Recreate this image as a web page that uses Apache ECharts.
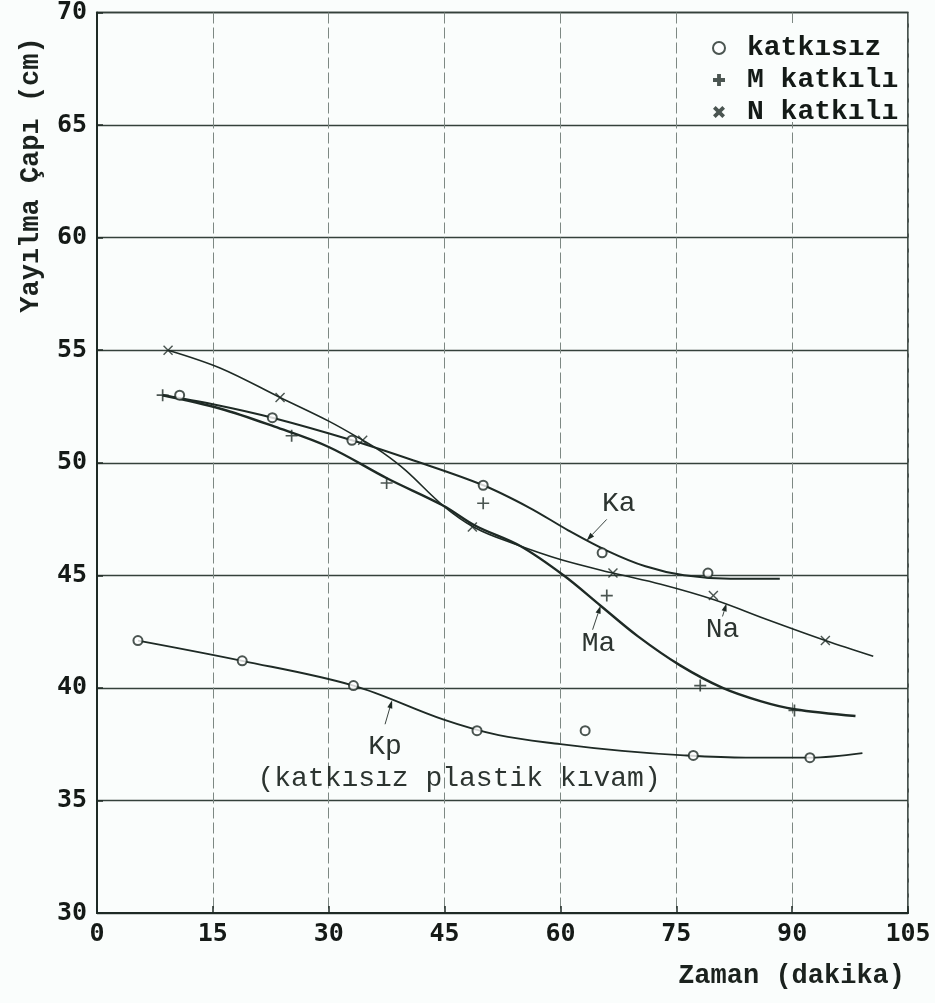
<!DOCTYPE html>
<html>
<head>
<meta charset="utf-8">
<script src="https://cdn.jsdelivr.net/npm/echarts@6/dist/echarts.min.js"></script>
<style>
  html, body { margin: 0; padding: 0; background: #fafdfc; }
  #chart { width: 935px; height: 1003px; }
</style>
</head>
<body>
<div id="chart"></div>
<script>
// Axis ticks
const timeTicks = [0, 15, 30, 45, 60, 75, 90, 105];
const diameterTicks = [30, 35, 40, 45, 50, 55, 60, 65, 70];

// Measured points: time (dakika) and spread diameter (cm)
const kaTime = [10.7, 22.7, 33.0, 50.0, 65.4, 79.1];
const kaDia  = [53.0, 52.0, 51.0, 49.0, 46.0, 45.1];
const maTime = [8.5, 25.2, 37.5, 50.0, 66.0, 78.1, 90.3];
const maDia  = [53.0, 51.2, 49.1, 48.2, 44.1, 40.1, 39.0];
const naTime = [9.2, 23.7, 34.4, 48.6, 66.8, 79.8, 94.3];
const naDia  = [55.0, 52.9, 51.0, 47.15, 45.1, 44.1, 42.1];
const kpTime = [5.3, 18.8, 33.2, 49.2, 63.2, 77.2, 92.3];
const kpDia  = [42.1, 41.2, 40.1, 38.1, 38.1, 37.0, 36.9];

// Hand-drawn trend curves through the measurements
const kaCurveTime = [8.5, 15, 22.7, 33, 41, 50, 56, 61, 66, 71, 76, 82, 88.4];
const kaCurveDia  = [53.0, 52.6, 52.0, 51.0, 50.1, 49.0, 48.0, 47.0, 46.1, 45.4, 45.0, 44.85, 44.85];
const maCurveTime = [8.5, 16, 23, 30, 37.6, 44.8, 49, 54.8, 60.4, 65.2, 70, 75.5, 81, 86, 90.3, 98.2];
const maCurveDia  = [53.0, 52.4, 51.6, 50.7, 49.3, 48.1, 47.2, 46.3, 45.0, 43.65, 42.3, 41.0, 40.0, 39.4, 39.05, 38.75];
const naCurveTime = [9.2, 16, 23.7, 30, 34.4, 37, 40, 44.8, 49, 54, 60, 66.8, 73, 80, 87, 94.3, 100.5];
const naCurveDia  = [55.0, 54.2, 52.9, 51.85, 51.0, 50.45, 49.65, 48.1, 47.1, 46.4, 45.7, 45.1, 44.6, 43.9, 43.0, 42.1, 41.4];
const kpCurveTime = [5.3, 18.8, 33.2, 44.8, 52, 60, 68, 76, 84, 92.3, 99.1];
const kpCurveDia  = [42.1, 41.2, 40.1, 38.6, 37.9, 37.5, 37.2, 37.0, 36.9, 36.9, 37.1];

// Legend names
const seriesNames = ['katkısız', 'M katkılı', 'N katkılı'];

// Curve annotations: arrow tip on the curve (data units) and text
const curveNotes = [
  { text: 'Ka', tip: [63.4, 46.55], tail: [20, -21], label: [32, -37] },
  { text: 'Ma', tip: [65.2, 43.65], tail: [-8, 24],  label: [-2, 38] },
  { text: 'Na', tip: [81.5, 43.75], tail: [-4, 13],  label: [-4, 26] },
  { text: 'Kp', tip: [38.2, 39.45], tail: [-7, 24],  label: [-7, 46] }
];
const kpSubtitle = '(katkısız plastik kıvam)';

const INK = '#1e2a25';
const BG = '#fafdfc';
const pairs = (xs, ys) => xs.map((x, i) => [x, ys[i]]);

const plusPath = 'path://M4.3,0H5.7V4.3H10V5.7H5.7V10H4.3V5.7H0V4.3H4.3Z';
const crossPath = 'path://M0,1L1,0L5,4L9,0L10,1L6,5L10,9L9,10L5,6L1,10L0,9L4,5Z';
const plusBold = 'path://M3.4,0H6.6V3.4H10V6.6H6.6V10H3.4V6.6H0V3.4H3.4Z';
const crossBold = 'path://M0,2.2L2.2,0L5,2.8L7.8,0L10,2.2L7.2,5L10,7.8L7.8,10L5,7.2L2.2,10L0,7.8L2.8,5Z';

function curve(name, xs, ys, width) {
  return {
    name: name, type: 'line', data: pairs(xs, ys), smooth: 0.35,
    showSymbol: false, symbol: 'none', silent: true, z: 3,
    lineStyle: { color: INK, width: width }
  };
}
function points(name, xs, ys, symbol, size, hollow) {
  return {
    name: name, type: 'scatter', data: pairs(xs, ys), symbol: symbol, symbolSize: size, z: 5,
    itemStyle: hollow ? { color: INK, borderColor: INK, borderWidth: 1.5 } : { color: INK }
  };
}

const chart = echarts.init(document.getElementById('chart'), null, { renderer: 'canvas' });

chart.setOption({
  backgroundColor: BG,
  animation: false,
  grid: { left: 97, right: 27, top: 9, bottom: 90, show: true, borderColor: INK, borderWidth: 1.6, backgroundColor: 'transparent' },
  xAxis: {
    type: 'value', min: timeTicks[0], max: timeTicks[timeTicks.length - 1], interval: 15,
    axisLine: { show: true, lineStyle: { color: INK, width: 2 } },
    axisTick: { show: true, inside: true, length: 7, lineStyle: { color: INK, width: 1.5 } },
    axisLabel: { color: '#151a17', fontFamily: 'DejaVu Sans Mono', fontWeight: 'bold', fontSize: 25, margin: 9,
                 formatter: v => timeTicks.includes(v) ? String(v) : '' },
    splitLine: { show: true, lineStyle: { color: '#7d8883', width: 1, type: [11, 4] } }
  },
  yAxis: {
    type: 'value', min: diameterTicks[0], max: diameterTicks[diameterTicks.length - 1], interval: 5,
    axisLine: { show: true, lineStyle: { color: INK, width: 2 } },
    axisTick: { show: true, inside: true, length: 6, lineStyle: { color: INK, width: 1.5 } },
    axisLabel: { color: '#151a17', fontFamily: 'DejaVu Sans Mono', fontWeight: 'bold', fontSize: 25, margin: 10,
                 formatter: v => diameterTicks.includes(v) ? String(v) : '' },
    splitLine: { show: true, lineStyle: { color: '#34413b', width: 1.4 } }
  },
  legend: {
    orient: 'vertical', left: 694, top: 34,
    padding: [0, 4, 0, 18], itemGap: 4,
    backgroundColor: 'transparent', borderWidth: 0,
    itemWidth: 12, itemHeight: 12,
    textStyle: { color: '#141a17', fontFamily: 'Liberation Mono', fontWeight: 'bold', fontSize: 28, padding: [0, 0, 0, 17] },
    data: [
      { name: seriesNames[0], icon: 'emptyCircle', itemStyle: { color: INK, borderColor: INK, borderWidth: 3 } },
      { name: seriesNames[1], icon: plusBold, itemStyle: { color: INK } },
      { name: seriesNames[2], icon: crossBold, itemStyle: { color: INK } }
    ],
    selectedMode: false, z: 10
  },
  series: [
    curve('Ka', kaCurveTime, kaCurveDia, 2),
    curve('Ma', maCurveTime, maCurveDia, 2.4),
    curve('Na', naCurveTime, naCurveDia, 1.6),
    curve('Kp', kpCurveTime, kpCurveDia, 1.9),
    points(seriesNames[0], kaTime, kaDia, 'emptyCircle', 9, true),
    points(seriesNames[0], kpTime, kpDia, 'emptyCircle', 9, true),
    points(seriesNames[1], maTime, maDia, plusPath, 12, false),
    points(seriesNames[2], naTime, naDia, crossPath, 10, false)
  ]
});

// Legend panel, axis titles and curve annotations
const graphics = [
  {
    type: 'rect', shape: { x: 692, y: 23, width: 214, height: 99 },
    style: { fill: BG }, z: 1
  },
  {
    type: 'text', x: 31, y: 175, rotation: Math.PI / 2,
    style: { text: 'Yayılma Çapı (cm)', fill: '#1b221e', font: 'bold 27px "Liberation Mono"', align: 'center', verticalAlign: 'middle' }
  },
  {
    type: 'text', x: 905, y: 976,
    style: { text: 'Zaman (dakika)', fill: '#1b221e', font: 'bold 27px "Liberation Mono"', align: 'right', verticalAlign: 'middle' }
  }
];

curveNotes.forEach(n => {
  const tip = chart.convertToPixel({ gridIndex: 0 }, n.tip);
  const tail = [tip[0] + n.tail[0], tip[1] + n.tail[1]];
  const dx = tip[0] - tail[0], dy = tip[1] - tail[1];
  const len = Math.hypot(dx, dy), ux = dx / len, uy = dy / len;
  const head = 8, half = 2.6;
  const base = [tip[0] - ux * head, tip[1] - uy * head];
  graphics.push({
    type: 'line', shape: { x1: tail[0], y1: tail[1], x2: base[0], y2: base[1] },
    style: { stroke: '#3a4440', lineWidth: 1 }, z: 20
  });
  graphics.push({
    type: 'polygon',
    shape: { points: [tip, [base[0] - uy * half, base[1] + ux * half], [base[0] + uy * half, base[1] - ux * half]] },
    style: { fill: INK }, z: 20
  });
  graphics.push({
    type: 'text', x: tip[0] + n.label[0], y: tip[1] + n.label[1],
    style: { text: n.text, fill: '#2c3430', font: '28px "Liberation Mono"', align: 'center', verticalAlign: 'middle' }, z: 20
  });
  if (n.text === 'Kp') {
    graphics.push({
      type: 'text', x: tip[0] + 67, y: tip[1] + 78,
      style: { text: kpSubtitle, fill: '#2c3430', font: '28px "Liberation Mono"', align: 'center', verticalAlign: 'middle' }, z: 20
    });
  }
});

chart.setOption({ graphic: graphics });
</script>
</body>
</html>
